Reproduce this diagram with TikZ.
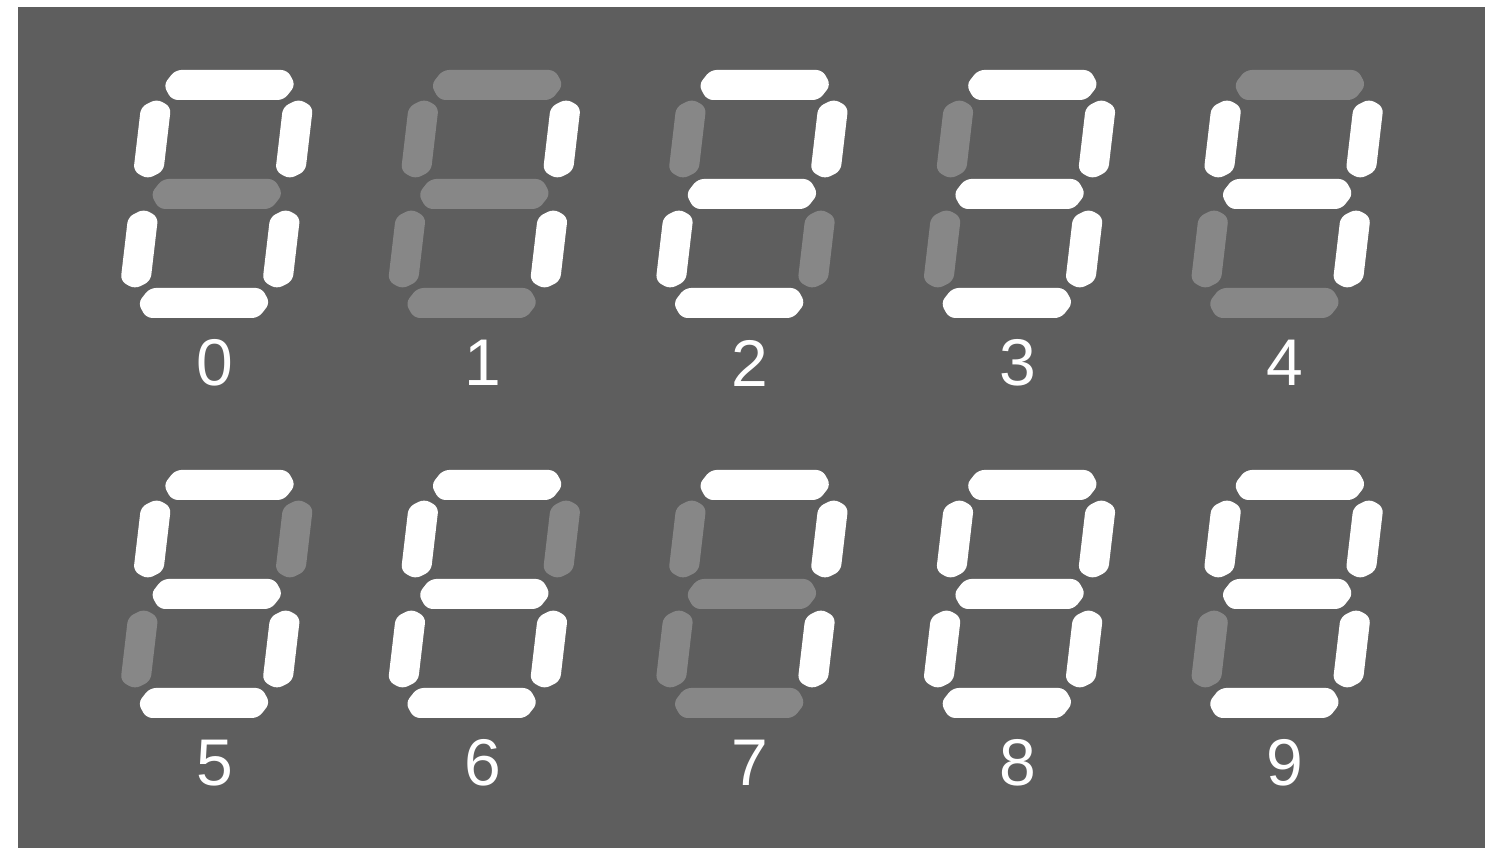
\documentclass[tikz,border=0pt]{standalone}
\usepackage{fontspec}
\setmainfont{Liberation Sans}
\definecolor{panel}{HTML}{5E5E5E}
\definecolor{segdim}{HTML}{878787}

% one segment: style, x, y (local, upright)
\newcommand{\hseg}[3]{\fill[#1] (#2-66,#3) -- ++(10,15) -- ++(112,0) -- ++(10,-15) -- ++(-10,-15) -- ++(-112,0) -- cycle;}
\newcommand{\vseg}[3]{\fill[#1] (#2,#3+40) -- ++(15,-8) -- ++(0,-64) -- ++(-15,-8) -- ++(-15,8) -- ++(0,64) -- cycle;}

\begin{document}
\begin{tikzpicture}[
    x=0.5pt, y=0.5pt,
    seg1/.style={fill=white, rounded corners=3pt},
    seg0/.style={fill=segdim, rounded corners=3pt},
    digitlabel/.style={text=white, inner sep=0pt, font=\fontsize{33}{36}\selectfont}
]
\useasboundingbox (0,0) rectangle (1496,851);
\fill[white] (0,0) rectangle (1496,851);
\fill[panel] (18,3) rectangle (1485,844);

% digits: number / a b c d e f g
\foreach \n/\sa/\sb/\sc/\sd/\se/\sf/\sg in {
    0/1/1/1/1/1/1/0, 1/0/1/1/0/0/0/0, 2/1/1/0/1/1/0/1, 3/1/1/1/1/0/0/1,
    4/0/1/1/0/0/1/1, 5/1/0/1/1/0/1/1, 6/1/0/1/1/1/1/1, 7/1/1/1/0/0/0/0,
    8/1/1/1/1/1/1/1, 9/1/1/1/1/0/1/1} {
  \pgfmathsetmacro\dx{216.75+267.6*mod(\n,5)}
  \pgfmathsetmacro\dy{657-400*int(\n/5)}
  \begin{scope}[shift={(\dx,\dy)}, xslant=0.117]
    \hseg{seg\sa}{0}{109}
    \vseg{seg\sb}{71}{55}
    \vseg{seg\sc}{71}{-55}
    \hseg{seg\sd}{0}{-109}
    \vseg{seg\se}{-71}{-55}
    \vseg{seg\sf}{-71}{55}
    \hseg{seg\sg}{0}{0}
  \end{scope}
  \node[digitlabel] (lab\n) at (\dx-2,\dy-169) {\n};
}
\end{tikzpicture}
\end{document}
